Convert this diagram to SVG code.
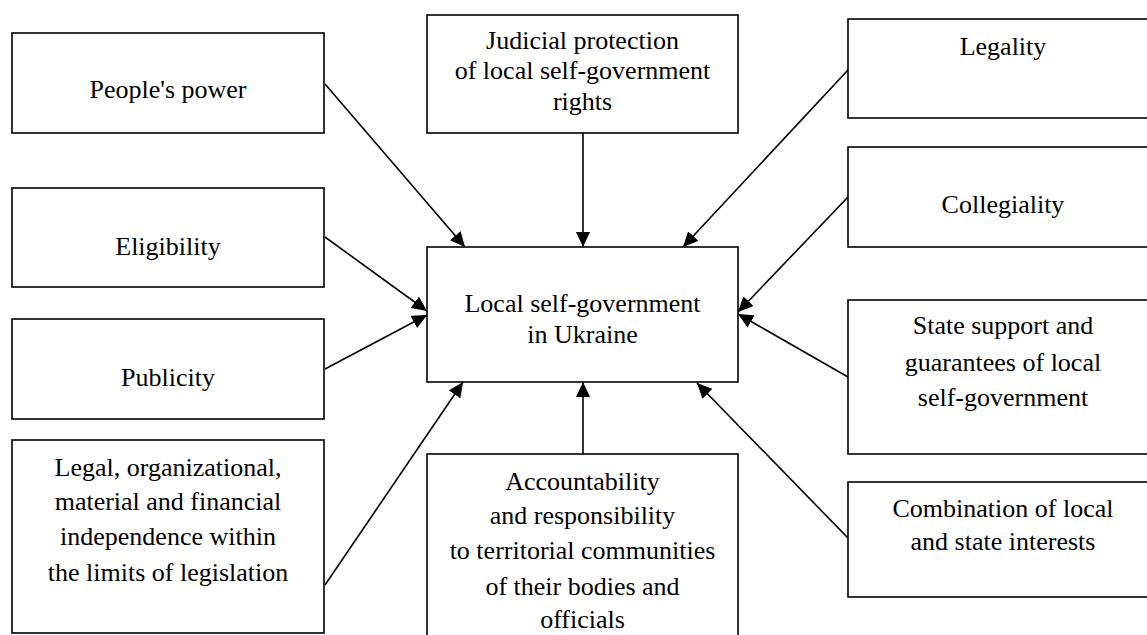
<svg xmlns="http://www.w3.org/2000/svg" width="1147" height="635" viewBox="0 0 1147 635">
<style>
.box{fill:#fff;stroke:#000;stroke-width:1.6}
.t{font-family:"Liberation Serif","Times New Roman",serif;font-size:26px;fill:#000;text-anchor:middle}
.c{stroke:#000;stroke-width:1.6;fill:none;marker-end:url(#ah)}
</style>
<defs>
<marker id="ah" markerUnits="userSpaceOnUse" markerWidth="16" markerHeight="14" refX="15" refY="7" orient="auto" viewBox="0 0 16 14">
<path d="M0,0 L15,7 L0,14 z" fill="#000"/>
</marker>
</defs>
<rect width="1147" height="635" fill="#fff"/>
<g id="connectors">
<line class="c" x1="325" y1="84" x2="465" y2="247"/>
<line class="c" x1="583" y1="133" x2="583" y2="247"/>
<line class="c" x1="848" y1="70" x2="683" y2="247"/>
<line class="c" x1="325" y1="237" x2="427" y2="311"/>
<line class="c" x1="848" y1="197" x2="738" y2="312"/>
<line class="c" x1="325" y1="369" x2="427" y2="315"/>
<line class="c" x1="848" y1="377" x2="738" y2="314"/>
<line class="c" x1="325" y1="585" x2="463" y2="382"/>
<line class="c" x1="583" y1="454" x2="583" y2="382"/>
<line class="c" x1="848" y1="538" x2="697" y2="383"/>
</g>
<g id="peoples-power">
<rect class="box" x="12" y="33" width="312" height="100"/>
<text class="t" x="168" y="98">People's power</text>
</g>
<g id="judicial">
<rect class="box" x="427" y="15" width="311" height="118"/>
<text class="t" x="582.5" y="49">Judicial protection</text>
<text class="t" x="582.5" y="79">of local self-government</text>
<text class="t" x="582.5" y="110">rights</text>
</g>
<g id="legality">
<rect class="box" x="848" y="19" width="310" height="99"/>
<text class="t" x="1003" y="55">Legality</text>
</g>
<g id="eligibility">
<rect class="box" x="12" y="188" width="312" height="99"/>
<text class="t" x="168" y="255">Eligibility</text>
</g>
<g id="collegiality">
<rect class="box" x="848" y="147" width="310" height="100"/>
<text class="t" x="1003" y="213">Collegiality</text>
</g>
<g id="center">
<rect class="box" x="427" y="247" width="311" height="135"/>
<text class="t" x="582.5" y="312">Local self-government</text>
<text class="t" x="582.5" y="343">in Ukraine</text>
</g>
<g id="publicity">
<rect class="box" x="12" y="319" width="312" height="100"/>
<text class="t" x="168" y="386">Publicity</text>
</g>
<g id="state-support">
<rect class="box" x="848" y="300" width="310" height="154"/>
<text class="t" x="1003" y="334">State support and</text>
<text class="t" x="1003" y="371">guarantees of local</text>
<text class="t" x="1003" y="406">self-government</text>
</g>
<g id="legal">
<rect class="box" x="12" y="440" width="312" height="193"/>
<text class="t" x="168" y="476">Legal, organizational,</text>
<text class="t" x="168" y="510">material and financial</text>
<text class="t" x="168" y="545">independence within</text>
<text class="t" x="168" y="581">the limits of legislation</text>
</g>
<g id="accountability">
<rect class="box" x="427" y="454" width="311" height="200"/>
<text class="t" x="582.5" y="490">Accountability</text>
<text class="t" x="582.5" y="524">and responsibility</text>
<text class="t" x="582.5" y="559">to territorial communities</text>
<text class="t" x="582.5" y="595">of their bodies and</text>
<text class="t" x="582.5" y="628">officials</text>
</g>
<g id="combination">
<rect class="box" x="848" y="482" width="310" height="115"/>
<text class="t" x="1003" y="517">Combination of local</text>
<text class="t" x="1003" y="550">and state interests</text>
</g>
</svg>
